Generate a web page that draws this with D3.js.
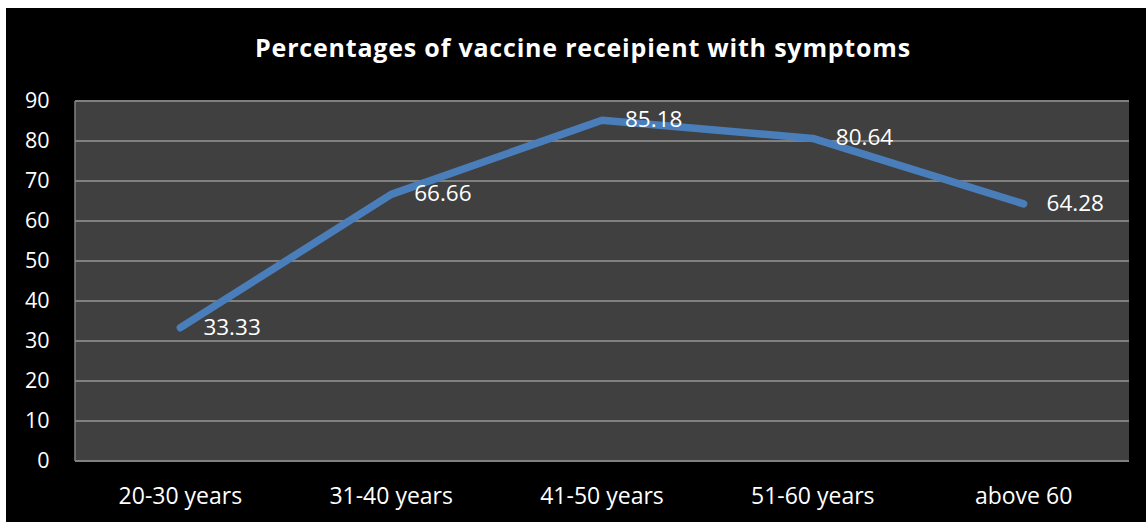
<!DOCTYPE html>
<html><head><meta charset="utf-8">
<script src="https://cdn.jsdelivr.net/npm/d3@7"></script>
<style>html,body{margin:0;padding:0;background:#fff;}svg{display:block;}</style>
</head><body>
<svg id="c" width="1146" height="522"></svg>
<script>
const categories = ["20-30 years","31-40 years","41-50 years","51-60 years","above 60"];
const values = [33.33, 66.66, 85.18, 80.64, 64.28];
const yTicks = [0,10,20,30,40,50,60,70,80,90];
const title = "Percentages of vaccine receipient with symptoms";

const svg = d3.select("#c");
const font = "Open Sans, Lato, sans-serif";
svg.append("rect").attr("x",6).attr("y",8).attr("width",1140).attr("height",514).attr("fill","#000");

const L=75, R=1129, T=101, B=461;
const x = d3.scaleBand().domain(categories).range([L,R]).padding(0);
const y = d3.scaleLinear().domain([0,90]).range([B,T]);

svg.append("rect").attr("x",L).attr("y",T).attr("width",R-L).attr("height",B-T).attr("fill","#404040");

svg.append("g").selectAll("line").data(yTicks).join("line")
  .attr("x1",L).attr("x2",R).attr("y1",d=>y(d)).attr("y2",d=>y(d))
  .attr("stroke","#808080").attr("stroke-width",2);
svg.append("line").attr("x1",L).attr("x2",L).attr("y1",T).attr("y2",B).attr("stroke","#808080").attr("stroke-width",1.5);

const yAxis = svg.append("g").attr("transform",`translate(${L},0)`)
  .call(d3.axisLeft(y).tickValues(yTicks).tickSize(0).tickPadding(25.5));
yAxis.select(".domain").remove();
yAxis.selectAll("text").attr("fill","#fff").attr("font-size",21.5).attr("font-family",font);

const xAxis = svg.append("g").attr("transform",`translate(0,${B})`)
  .call(d3.axisBottom(x).tickSize(0).tickPadding(0));
xAxis.select(".domain").remove();
xAxis.selectAll("text").attr("dy",null).attr("y",43).attr("fill","#fff").attr("font-size",23).attr("font-family",font);

const cx = d => x(d) + x.bandwidth()/2;
const line = d3.line().x((d,i)=>cx(categories[i])).y(d=>y(d));
svg.append("path").datum(values).attr("d",line).attr("fill","none")
  .attr("stroke","#4a7ebb").attr("stroke-width",7.5).attr("stroke-linejoin","round").attr("stroke-linecap","round");

svg.append("g").selectAll("text").data(values).join("text")
  .attr("x",(d,i)=>cx(categories[i])+23).attr("y",d=>y(d)+1)
  .attr("dominant-baseline","middle")
  .attr("fill","#fff").attr("font-size",22.5).attr("font-family",font)
  .text(d=>d.toFixed(2));

svg.append("text").attr("x",583).attr("y",57).attr("text-anchor","middle")
  .attr("fill","#fff").attr("font-size",25).attr("font-weight","bold").attr("letter-spacing",0.8).attr("font-family",font)
  .text(title);
</script>
</body></html>
